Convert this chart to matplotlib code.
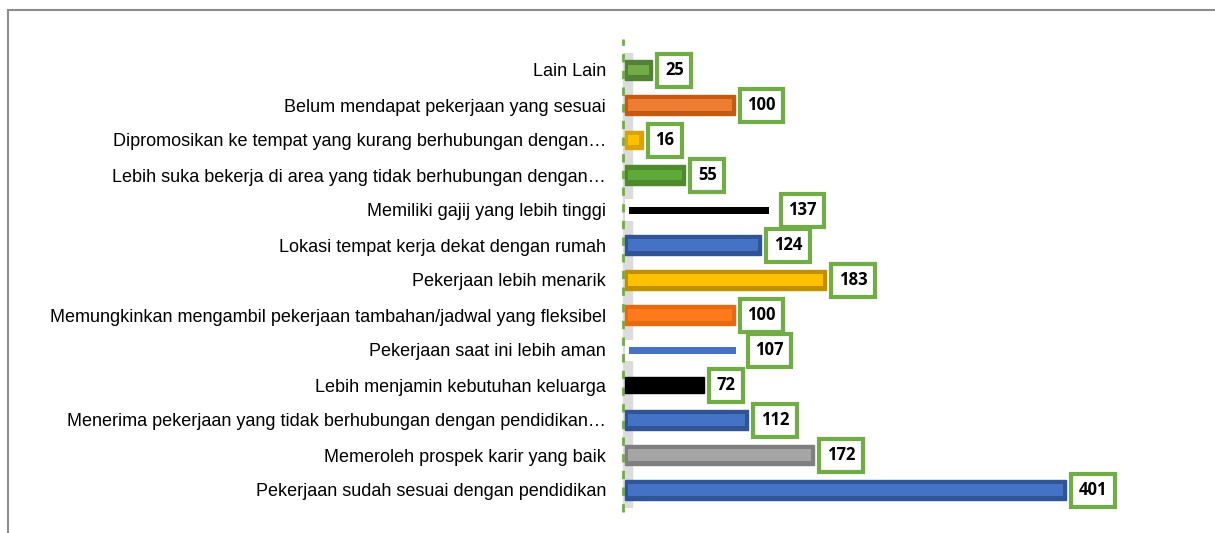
import matplotlib.pyplot as plt
from matplotlib.patches import Rectangle

# --- Data (top to bottom as shown) --------------------------------------------
labels = [
    "Lain Lain",
    "Belum mendapat pekerjaan yang sesuai",
    "Dipromosikan ke tempat yang kurang berhubungan dengan\u2026",
    "Lebih suka bekerja di area yang tidak berhubungan dengan\u2026",
    "Memiliki gajij yang lebih tinggi",
    "Lokasi tempat kerja dekat dengan rumah",
    "Pekerjaan lebih menarik",
    "Memungkinkan mengambil pekerjaan tambahan/jadwal yang fleksibel",
    "Pekerjaan saat ini lebih aman",
    "Lebih menjamin kebutuhan keluarga",
    "Menerima pekerjaan yang tidak berhubungan dengan pendidikan\u2026",
    "Memeroleh prospek karir yang baik",
    "Pekerjaan sudah sesuai dengan pendidikan",
]
values = [25, 100, 16, 55, 137, 124, 183, 100, 107, 72, 112, 172, 401]
fills = ["#70AD47", "#ED7D31", "#FFC000", "#5FA83A", "#000000", "#4472C4", "#FFC000",
         "#FF7A1A", "#4472C4", "#000000", "#4472C4", "#A5A5A5", "#4472C4"]
edges = ["#548235", "#C55A11", "#D9A300", "#4E8A2A", "#000000", "#2F5597", "#BF9000",
         "#E86A10", "#4472C4", "#000000", "#2F5597", "#7F7F7F", "#2F5597"]
heights = [0.55, 0.58, 0.5, 0.55, 0.2, 0.58, 0.58, 0.58, 0.2, 0.45, 0.58, 0.58, 0.58]

W, H = 1215, 533
fig = plt.figure(figsize=(W / 100, H / 100), dpi=100)

# chart border (Excel-like frame, cut by the picture)
fig.patches.append(Rectangle((8 / W, -0.1), 1.2, (H - 10) / H + 0.1,
                             transform=fig.transFigure, fill=False,
                             edgecolor="#8C8C8C", linewidth=1.5))

# geometry: 0 at x=625 px, 1.1 px per unit; rows 35 px apart from y=70 to 490
s = 1.1
x0, x1 = -6, 510
left = (625 + x0 * s) / W
width = (x1 - x0) * s / W
bottom = 1 - 507.5 / H
height = 455 / H
ax = fig.add_axes([left, bottom, width, height])

n = len(labels)
ypos = list(range(n))[::-1]

# side wall and dashed axis line
ax.axvspan(-2, 6, ymin=0.0, ymax=1.0, color="#DCDCDC", zorder=0)
ax.axvline(-2, ymin=-0.01, ymax=1.03, color="#70AD47", linestyle=(0, (3, 3)),
           linewidth=2, zorder=1, clip_on=False)

for y, v, fc, ec, h in zip(ypos, values, fills, edges, heights):
    if h < 0.3:
        # white panel with thin line inside
        ax.barh(y, v + 6, height=0.6, left=0, color="white", zorder=2)
        ax.barh(y, v - 10, height=h, left=4, color=fc, zorder=3)
    else:
        ax.barh(y, v, height=h, color=ec, edgecolor=ec, linewidth=1, zorder=2)
        ax.barh(y, v - 6, height=h * 0.55, left=3, color=fc, zorder=3)
    ax.annotate(str(v), xy=(v, y), xytext=(9, 0), textcoords="offset points",
                ha="left", va="center", fontsize=12, fontweight="bold",
                family="Open Sans", zorder=5,
                bbox=dict(boxstyle="square,pad=0.45", facecolor="white",
                          edgecolor="#70AD47", linewidth=3))

ax.set_xlim(x0, x1)
ax.set_ylim(-0.5, n - 0.5)
ax.set_yticks(ypos)
ax.set_yticklabels(labels, fontsize=13, family="Liberation Sans")
ax.tick_params(axis="y", length=0, pad=9)
ax.set_xticks([])
for sp in ax.spines.values():
    sp.set_visible(False)
ax.patch.set_alpha(0)

fig.savefig("out.png", dpi=100)
